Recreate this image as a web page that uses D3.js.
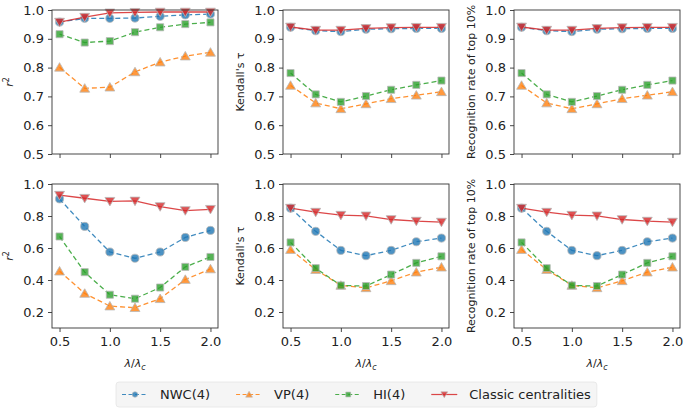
<!DOCTYPE html>
<html><head><meta charset="utf-8">
<script src="https://cdn.jsdelivr.net/npm/d3@7"></script>
<style>
body{margin:0;background:#fff;}
svg{font-family:"DejaVu Sans",sans-serif;}
</style></head>
<body><svg id="chart" width="685" height="409"></svg>
<script>
// ---- data ----
const xValues = [0.5, 0.75, 1.0, 1.25, 1.5, 1.75, 2.0];
const xTicks = [0.5, 1.0, 1.5, 2.0];
const yTicksTop = [0.5, 0.6, 0.7, 0.8, 0.9, 1.0];
const yTicksBottom = [0.2, 0.4, 0.6, 0.8, 1.0];
const seriesNames = ["NWC(4)", "VP(4)", "HI(4)", "Classic centralities"];
const yLabels = ["r²", "Kendall's τ", "Recognition rate of top 10%"];

// top row
const topR2_NWC     = [0.958, 0.971, 0.971, 0.972, 0.978, 0.983, 0.986];
const topR2_VP      = [0.801, 0.728, 0.732, 0.785, 0.819, 0.840, 0.853];
const topR2_HI      = [0.916, 0.887, 0.892, 0.923, 0.940, 0.951, 0.957];
const topR2_Classic = [0.958, 0.975, 0.990, 0.992, 0.993, 0.993, 0.993];

const topTau_NWC     = [0.940, 0.928, 0.925, 0.933, 0.935, 0.936, 0.936];
const topTau_VP      = [0.738, 0.677, 0.657, 0.674, 0.692, 0.704, 0.716];
const topTau_HI      = [0.781, 0.707, 0.681, 0.701, 0.723, 0.740, 0.755];
const topTau_Classic = [0.941, 0.930, 0.930, 0.936, 0.939, 0.940, 0.940];

const topRec_NWC     = [0.940, 0.928, 0.925, 0.933, 0.935, 0.936, 0.936];
const topRec_VP      = [0.738, 0.677, 0.657, 0.674, 0.692, 0.704, 0.716];
const topRec_HI      = [0.781, 0.707, 0.681, 0.701, 0.723, 0.740, 0.755];
const topRec_Classic = [0.941, 0.930, 0.930, 0.936, 0.939, 0.940, 0.940];

// bottom row
const botR2_NWC     = [0.907, 0.735, 0.575, 0.536, 0.575, 0.666, 0.710];
const botR2_VP      = [0.455, 0.316, 0.237, 0.227, 0.283, 0.403, 0.469];
const botR2_HI      = [0.672, 0.449, 0.308, 0.283, 0.353, 0.482, 0.544];
const botR2_Classic = [0.930, 0.911, 0.892, 0.894, 0.859, 0.834, 0.842];

const botTau_NWC     = [0.849, 0.704, 0.585, 0.552, 0.585, 0.639, 0.662];
const botTau_VP      = [0.590, 0.465, 0.366, 0.351, 0.395, 0.449, 0.480];
const botTau_HI      = [0.635, 0.474, 0.366, 0.362, 0.434, 0.507, 0.548];
const botTau_Classic = [0.849, 0.824, 0.805, 0.801, 0.778, 0.768, 0.762];

const botRec_NWC     = [0.849, 0.704, 0.585, 0.552, 0.585, 0.639, 0.662];
const botRec_VP      = [0.590, 0.465, 0.366, 0.351, 0.395, 0.449, 0.480];
const botRec_HI      = [0.635, 0.474, 0.366, 0.362, 0.434, 0.507, 0.548];
const botRec_Classic = [0.849, 0.824, 0.805, 0.801, 0.778, 0.768, 0.762];

// ---- styles ----
const colors = ["#1f77b4", "#ff7f0e", "#2ca02c", "#d62728"];
const symbols = [d3.symbolCircle, d3.symbolTriangle, d3.symbolSquare, d3.symbolTriangle];
const symSizes = [52, 42, 50, 42];
const legSizes = [24, 20, 24, 20];
const symRot = [0, 0, 0, 180];
const dashes = ["5,3", "5,3", "5,3", null];

const panels = [
  {row:0, col:0, data:[topR2_NWC, topR2_VP, topR2_HI, topR2_Classic]},
  {row:0, col:1, data:[topTau_NWC, topTau_VP, topTau_HI, topTau_Classic]},
  {row:0, col:2, data:[topRec_NWC, topRec_VP, topRec_HI, topRec_Classic]},
  {row:1, col:0, data:[botR2_NWC, botR2_VP, botR2_HI, botR2_Classic]},
  {row:1, col:1, data:[botTau_NWC, botTau_VP, botTau_HI, botTau_Classic]},
  {row:1, col:2, data:[botRec_NWC, botRec_VP, botRec_HI, botRec_Classic]},
];

const svg = d3.select("#chart");
const lefts = [52, 283, 514];
const tops = [10, 184];
const W = 166, H = 144;
const axisColor = "#333";

panels.forEach(p => {
  const x0 = lefts[p.col], y0 = tops[p.row];
  const g = svg.append("g").attr("transform", `translate(${x0},${y0})`);
  const x = d3.scaleLinear().domain([0.425, 2.075]).range([0, W]);
  const y = d3.scaleLinear().domain(p.row === 0 ? [0.5, 1.0] : [0.1, 1.0]).range([H, 0]);

  // series
  p.data.forEach((vals, si) => {
    const pts = xValues.map((xv, i) => [xv, vals[i]]);
    const line = d3.line().x(d => x(d[0])).y(d => y(d[1]));
    const path = g.append("path").attr("d", line(pts))
      .attr("fill", "none").attr("stroke", colors[si])
      .attr("stroke-width", 1.3).attr("stroke-opacity", 0.85);
    if (dashes[si]) path.attr("stroke-dasharray", dashes[si]);
    const sym = d3.symbol().type(symbols[si]).size(symSizes[si]);
    g.selectAll(null).data(pts).enter().append("path")
      .attr("d", sym)
      .attr("transform", d => `translate(${x(d[0])},${y(d[1]) + (si===1 ? 1 : si===3 ? -1 : 0)}) rotate(${symRot[si]})`)
      .attr("fill", colors[si]).attr("fill-opacity", 0.8)
      .attr("stroke", "#b8b8b8").attr("stroke-width", 1).attr("stroke-opacity", 0.8);
  });

  // axes
  const xAxis = d3.axisBottom(x).tickValues(xTicks).tickSizeOuter(0).tickSize(4).tickPadding(5)
    .tickFormat(p.row === 1 ? d3.format(".1f") : () => "");
  const yAxis = d3.axisLeft(y).tickValues(p.row === 0 ? yTicksTop : yTicksBottom)
    .tickSizeOuter(0).tickSize(4).tickPadding(4).tickFormat(d3.format(".1f"));
  const gx = g.append("g").attr("transform", `translate(0,${H})`).call(xAxis);
  const gy = g.append("g").call(yAxis);
  [gx, gy].forEach(a => {
    a.select(".domain").remove();
    a.selectAll("line").attr("stroke", axisColor).attr("stroke-width", 0.9);
    a.selectAll("text").attr("fill", "#222").style("font-size", "13px").style("font-family", "DejaVu Sans");
  });
  // frame
  g.append("rect").attr("x", 0).attr("y", 0).attr("width", W).attr("height", H)
    .attr("fill", "none").attr("stroke", axisColor).attr("stroke-width", 0.9);

  // y label
  const yl = g.append("text")
    .attr("transform", `translate(${-42},${H/2}) rotate(-90)`)
    .attr("text-anchor", "middle").attr("dominant-baseline", "middle")
    .style("font-size", "11px").attr("fill", "#222");
  if (p.col === 0) {
    yl.append("tspan").style("font-style", "italic").text("r");
    yl.append("tspan").attr("dy", -4).style("font-size", "8px").text("2");
  } else {
    yl.text(yLabels[p.col]);
  }

  // x label
  if (p.row === 1) {
    const xl = g.append("text").attr("x", W/2).attr("y", H + 39)
      .attr("text-anchor", "middle").style("font-size", "11px").attr("fill", "#222");
    xl.append("tspan").style("font-style", "italic").text("λ");
    xl.append("tspan").text("/");
    xl.append("tspan").style("font-style", "italic").text("λ");
    xl.append("tspan").style("font-style", "italic").style("font-size", "8px").attr("dy", 2.5).text("c");
  }
});

// legend
const leg = svg.append("g");
const legBox = leg.append("rect").attr("y", 382).attr("height", 25).attr("rx", 3)
  .attr("fill", "#f5f5f5").attr("stroke", "#e4e4e4").attr("stroke-width", 0.8);
let cx = 122;
const ly = 394.5;
seriesNames.forEach((name, si) => {
  const ln = leg.append("line").attr("x1", cx).attr("x2", cx + 26).attr("y1", ly).attr("y2", ly)
    .attr("stroke", colors[si]).attr("stroke-width", 1.2).attr("stroke-opacity", 0.85);
  if (dashes[si]) ln.attr("stroke-dasharray", "4,2.5");
  leg.append("path").attr("d", d3.symbol().type(symbols[si]).size(legSizes[si]))
    .attr("transform", `translate(${cx + 13},${ly + (si===1?0.7:si===3?-0.7:0)}) rotate(${symRot[si]})`)
    .attr("fill", colors[si]).attr("fill-opacity", 0.8)
    .attr("stroke", "#b8b8b8").attr("stroke-width", 0.8).attr("stroke-opacity", 0.8);
  const t = leg.append("text").attr("x", cx + 26 + 12).attr("y", ly)
    .attr("dominant-baseline", "central").style("font-size", "13px").attr("fill", "#222").text(name);
  const w = t.node().getComputedTextLength();
  cx = cx + 26 + 12 + w + 26;
});
legBox.attr("x", 116).attr("width", cx - 26 + 6 - 116);
</script>
</body></html>
